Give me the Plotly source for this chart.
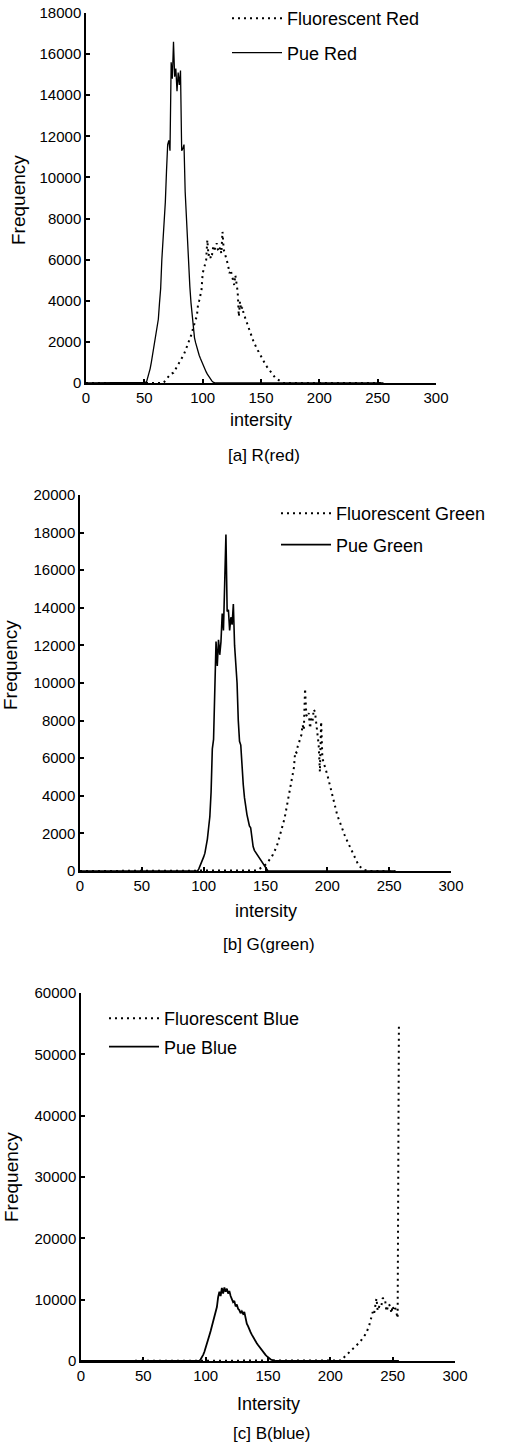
import plotly.graph_objects as go

# ---------------- data (histogram counts per intensity bin) ----------------
intensity_ticks = [0, 50, 100, 150, 200, 250, 300]

# Panel a: R(red)
pue_red_start = 50
pue_red = [0, 30, 80, 250, 450, 700, 1000, 1350, 1700, 2100, 2500, 2800, 3100, 3900,
           4600, 6000, 6900, 7800, 8800, 10300, 11600, 11800, 11300, 15600, 14800, 16600,
           14900, 15300, 14200, 15100, 14500, 15200, 11300, 11400, 11600, 9300, 8000, 6900,
           5900, 4700, 3900, 3200, 2600, 2200, 1950, 1700, 1500, 1350, 1200, 1050, 900, 780,
           660, 540, 430, 330, 240, 160, 90, 40, 0]
fl_red_start = 66
fl_red = [0, 50, 120, 240, 300, 350, 400, 450, 480, 500, 600, 700, 800, 880, 970, 1050,
          1150, 1280, 1400, 1550, 1690, 1800, 1950, 2090, 2300, 2500, 2740, 2900, 3100, 3230,
          3800, 4000, 4300, 4520, 5340, 5600, 5820, 5980, 6960, 6200, 6310, 6050, 6230, 6600,
          6450, 6700, 6800, 6500, 6390, 6600, 6300, 7360, 6500, 6310, 6150, 5900, 5660, 5340,
          5500, 5200, 5090, 4770, 5250, 4900, 4440, 3230, 3960, 3550, 3700, 3400, 3230, 3050,
          2900, 2740, 2550, 2400, 2250, 2100, 1950, 1850, 1700, 1600, 1520, 1400, 1300, 1200,
          1080, 960, 880, 800, 720, 620, 530, 450, 380, 320, 270, 220, 180, 150, 120, 80, 40, 0]

# Panel b: G(green)
pue_green_start = 95
pue_green = [0, 100, 250, 450, 600, 750, 950, 1300, 1700, 2300, 2900, 4200, 6500, 7000, 9500,
             12200, 10900, 12300, 11500, 12200, 13700, 12800, 15300, 17900, 13800, 13900, 12800,
             13500, 13100, 14200, 12000, 10900, 10000, 8000, 6900, 6700, 5500, 4600, 3900, 3400,
             3000, 2700, 2400, 2300, 1600, 1300, 1100, 1000, 850, 750, 650, 550, 480, 400, 300,
             200, 100, 0]
fl_green_start = 142
fl_green = [0, 30, 60, 100, 140, 180, 230, 280, 340, 400, 480, 560, 650, 760, 880, 1000, 1140,
            1290, 1500, 1740, 1900, 2100, 2360, 2700, 3000, 3330, 3700, 4000, 4350, 4750, 5100,
            5500, 6350, 6300, 6610, 6800, 7000, 7230, 7770, 7500, 9700, 8300, 8200, 8400, 7590,
            8100, 7940, 8600, 8470, 7800, 7410, 6700, 5280, 7940, 6000, 5800, 5640, 5400, 5110,
            4850, 4570, 4300, 4040, 3800, 3510, 3250, 2980, 2800, 2600, 2450, 2250, 2050, 1910,
            1750, 1600, 1450, 1290, 1150, 1000, 850, 700, 580, 450, 340, 250, 180, 120, 80, 50,
            20, 0]

# Panel c: B(blue)
pue_blue_start = 95
pue_blue = [0, 300, 600, 1000, 1500, 2100, 2700, 3400, 4200, 4900, 5700, 6400, 7200, 8000, 8800,
            10400, 11300, 10600, 11900, 11000, 12000, 11300, 11800, 11000, 11400, 10600, 10200,
            9600, 9800, 8900, 9200, 8500, 8300, 7800, 8100, 7700, 8000, 6800, 6100, 5700, 5100,
            4700, 4300, 3900, 3500, 3200, 2900, 2600, 2300, 2000, 1800, 1500, 1250, 1000, 800,
            600, 450, 300, 180, 80, 0]
fl_blue_start = 208
fl_blue = [0, 100, 400, 600, 800, 950, 1100, 1250, 1450, 1650, 1850, 2070, 2300, 2500, 2700,
           2890, 3150, 3450, 3700, 3960, 4300, 4650, 5050, 5700, 6400, 7200, 8000, 7600, 8850,
           10200, 8200, 8850, 9300, 9100, 10200, 10300, 9800, 8100, 8850, 9300, 8850, 7800, 9000,
           8300, 8700, 7500, 7000, 54500]

N_BINS = 256


def full_hist(start, vals):
    counts = [0] * N_BINS
    for i, v in enumerate(vals):
        counts[start + i] = v
    return list(range(N_BINS)), counts


# ---------------- layout helpers (page pixel -> paper) ----------------
W, H = 507, 1445


def px(x):
    return x / W


def py(y):
    return 1 - y / H


FONT = "Liberation Sans, Arial, sans-serif"

panels = [
    dict(x=(86, 436), y=(13, 383), ymax=18000, ydtick=2000,
         fl=("Fluorescent Red", fl_red_start, fl_red),
         pue=("Pue Red", pue_red_start, pue_red),
         legend=(227, 0), gap=8, xt="intersity", xt_y=420, cap="[a] R(red)", cap_y=456,
         yt_x=18, yt_y=200, solid_w=1.3),
    dict(x=(80, 451), y=(495, 871), ymax=20000, ydtick=2000,
         fl=("Fluorescent Green", fl_green_start, fl_green),
         pue=("Pue Green", pue_green_start, pue_green),
         legend=(276, 495), gap=5, xt="intersity", xt_y=911, cap="[b] G(green)", cap_y=944,
         yt_x=11, yt_y=665, solid_w=1.6),
    dict(x=(81, 455), y=(993, 1361), ymax=60000, ydtick=10000,
         fl=("Fluorescent Blue", fl_blue_start, fl_blue),
         pue=("Pue Blue", pue_blue_start, pue_blue),
         legend=(104, 1000), gap=2, xt="Intersity", xt_y=1404, cap="[c] B(blue)", cap_y=1433,
         yt_x=11, yt_y=1177, solid_w=1.8),
]

fig = go.Figure()
annotations = []
layout = dict(
    width=W, height=H,
    margin=dict(l=0, r=0, t=0, b=0, autoexpand=False),
    paper_bgcolor="white", plot_bgcolor="white",
    font=dict(family=FONT, color="black", size=15),
    showlegend=True,
)

for i, p in enumerate(panels):
    k = "" if i == 0 else str(i + 1)
    xa, ya = "x" + k, "y" + k
    lg = "legend" + k
    fname, fstart, fvals = p["fl"]
    pname, pstart, pvals = p["pue"]
    fx, fy = full_hist(fstart, fvals)
    qx, qy = full_hist(pstart, pvals)
    fig.add_trace(go.Scatter(x=fx, y=fy, mode="lines", name=fname, xaxis=xa, yaxis=ya,
                             legend=lg, legendgroup=fname,
                             line=dict(color="black", width=2, dash="2px,4px")))
    fig.add_trace(go.Scatter(x=qx, y=qy, mode="lines", name=pname, xaxis=xa, yaxis=ya,
                             legend=lg, legendgroup=pname,
                             line=dict(color="black", width=p["solid_w"])))
    axis_common = dict(showline=True, linecolor="black", linewidth=1.5, ticks="inside",
                       ticklen=4, tickwidth=1.5, tickcolor="black", showgrid=False,
                       zeroline=False, tickformat="d",
                       tickfont=dict(family=FONT, size=15, color="black"))
    layout["xaxis" + k] = dict(domain=[px(p["x"][0]), px(p["x"][1])], range=[0, 300],
                               tickvals=intensity_ticks, anchor=ya, **axis_common)
    layout["yaxis" + k] = dict(domain=[py(p["y"][1]), py(p["y"][0])],
                               range=[0, p["ymax"]], dtick=p["ydtick"], anchor=xa,
                               **axis_common)
    layout[lg] = dict(x=px(p["legend"][0]), y=py(p["legend"][1]),
                      xanchor="left", yanchor="top", bgcolor="rgba(0,0,0,0)",
                      borderwidth=0, font=dict(family=FONT, size=18, color="black"),
                      itemwidth=50, tracegroupgap=p["gap"])
    cx = (p["x"][0] + p["x"][1]) / 2
    annotations.append(dict(text=p["xt"], x=px(cx), y=py(p["xt_y"]), xref="paper",
                            yref="paper", showarrow=False, xanchor="center",
                            yanchor="middle", font=dict(family=FONT, size=18)))
    annotations.append(dict(text=p["cap"], x=px(cx + 3), y=py(p["cap_y"]), xref="paper",
                            yref="paper", showarrow=False, xanchor="center",
                            yanchor="middle", font=dict(family=FONT, size=17)))
    annotations.append(dict(text="Frequency", x=px(p["yt_x"]), y=py(p["yt_y"]),
                            xref="paper", yref="paper", showarrow=False, textangle=-90,
                            xanchor="center", yanchor="middle",
                            font=dict(family=FONT, size=19)))

layout["annotations"] = annotations
fig.update_layout(**layout)
# remove the browser's default 8px body margin so the figure fills the window exactly
fig.write_html("out.html",
               config={"displayModeBar": False},
               post_script="document.body.style.margin='0px';"
                           "document.body.style.overflow='hidden';")
